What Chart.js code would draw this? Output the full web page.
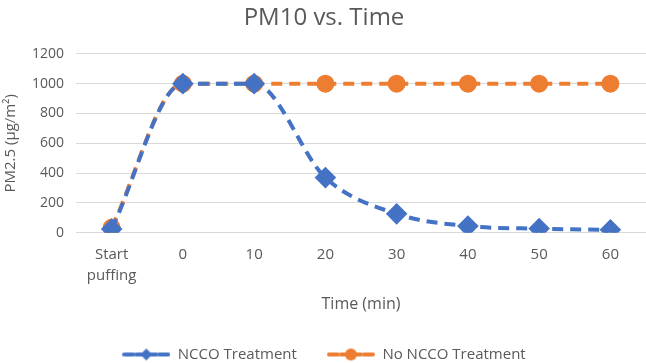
<!DOCTYPE html>
<html><head><meta charset="utf-8">
<script src="https://cdn.jsdelivr.net/npm/chart.js@4/dist/chart.umd.min.js"></script>
<style>html,body{margin:0;padding:0;background:#fff}#wrap{width:646px;height:363px}</style>
</head><body><div id="wrap"><canvas id="c"></canvas></div>
<script>
const categories = [["Start","puffing"],"0","10","20","30","40","50","60"];
const nccoTreatment = [25, 1000, 1000, 370, 127, 45, 28, 20];
const noNccoTreatment = [35, 1000, 1000, 1000, 1000, 1000, 1000, 1000];
const yTicks = [0, 200, 400, 600, 800, 1000, 1200];
const BLUE = '#4472C4', ORANGE = '#ED7D31';
const FONT = '"Open Sans", sans-serif';

function legendIcon(color, style) {
  const cv = document.createElement('canvas');
  cv.width = 48; cv.height = 14;
  const g = cv.getContext('2d');
  g.strokeStyle = color; g.lineWidth = 4; g.lineCap = 'round';
  g.beginPath(); g.moveTo(2,7); g.lineTo(11,7); g.moveTo(37,7); g.lineTo(46,7); g.stroke();
  g.beginPath(); g.moveTo(14,7); g.lineTo(34,7); g.stroke();
  g.fillStyle = color; g.beginPath();
  if (style === 'diamond') { g.moveTo(24,1); g.lineTo(30,7); g.lineTo(24,13); g.lineTo(18,7); g.closePath(); }
  else { g.arc(24,7,6,0,Math.PI*2); }
  g.fill();
  return cv;
}
const icons = [legendIcon(BLUE,'diamond'), legendIcon(ORANGE,'circle')];

new Chart(document.getElementById('c'), {
  type: 'line',
  data: {
    labels: categories,
    datasets: [
      { label: 'NCCO Treatment', data: nccoTreatment, borderColor: BLUE, backgroundColor: BLUE,
        borderWidth: 4, borderDash: [11, 7], pointStyle: 'rectRot', pointRadius: 8, pointHoverRadius: 8,
        cubicInterpolationMode: 'monotone' },
      { label: 'No NCCO Treatment', data: noNccoTreatment, borderColor: ORANGE, backgroundColor: ORANGE,
        borderWidth: 4, borderDash: [11, 7], pointStyle: 'circle', pointRadius: 7, pointHoverRadius: 7,
        cubicInterpolationMode: 'monotone' }
    ]
  },
  options: {
    responsive: true, maintainAspectRatio: false, animation: false,
    layout: { autoPadding: false, padding: { left: 2, right: 0, top: 4, bottom: -9 } },
    plugins: {
      title: { display: true, text: 'PM10 vs. Time', color: '#595959',
        font: { family: FONT, size: 24, weight: 'normal' },
        padding: { top: 0, bottom: 21 } },
      legend: { position: 'bottom', align: 'center',
        labels: { color: '#595959', font: { family: FONT, size: 15 },
          usePointStyle: true, pointStyleWidth: 48, boxHeight: 14, padding: 0,
          generateLabels: (chart) => chart.data.datasets.map((d, i) => ({
            text: i === 0 ? d.label + '\u2003\u2003' : d.label, pointStyle: icons[i], fillStyle: d.borderColor, strokeStyle: d.borderColor,
            lineWidth: 0, datasetIndex: i, hidden: false, fontColor: '#595959' })) } },
      tooltip: { enabled: false }
    },
    scales: {
      x: { offset: true, grid: { display: false }, border: { color: '#d9d9d9' },
        ticks: { color: '#595959', font: { family: FONT, size: 15, lineHeight: 1.4 }, maxRotation: 0, padding: 3 },
        title: { display: true, text: 'Time (min)', color: '#595959',
          font: { family: FONT, size: 16 }, padding: { top: 6, bottom: 33 } } },
      y: { min: 0, max: 1200, afterBuildTicks: (s) => { s.ticks = yTicks.map(v => ({ value: v })); },
        grid: { color: '#d9d9d9', drawTicks: false }, border: { display: false },
        ticks: { color: '#595959', font: { family: FONT, size: 14 }, padding: 12,
          callback: (v) => String(v) },
        title: { display: true, text: 'PM2.5 (μg/m²)', color: '#595959',
          font: { family: FONT, size: 15 }, padding: { top: 0, bottom: 0 } } }
    }
  }
});
</script></body></html>
